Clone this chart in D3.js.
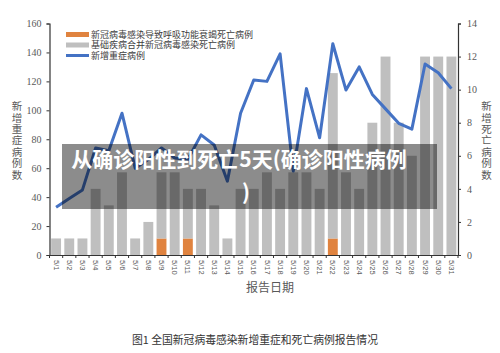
<!DOCTYPE html>
<html>
<head>
<meta charset="utf-8">
<script src="https://cdn.jsdelivr.net/npm/d3@7"></script>
<style>
body { margin: 0; background: #fff; }
svg { display: block; }
.cjk { font-family: "Noto Sans CJK SC", sans-serif; }
</style>
</head>
<body>
<div id="chart"></div>
<script>
var width = 500,
    height = 353;

// report dates (x categories)
var dates = ["5/1","5/2","5/3","5/4","5/5","5/6","5/7","5/8","5/9","5/10",
    "5/11","5/12","5/13","5/14","5/15","5/16","5/17","5/18","5/19","5/20",
    "5/21","5/22","5/23","5/24","5/25","5/26","5/27","5/28","5/29","5/30","5/31"];

// new severe cases (left axis)
var severe = [33,39,45,74,72,98,60,66,74,67,66,83,76,51,98,121,120,139,58,115,
    81,146,114,130,111,101,91,87,132,126,115];

// deaths from respiratory failure caused by infection (right axis)
var respDeaths = [0,0,0,0,0,0,0,0,1,0,1,0,0,0,0,0,0,0,0,0,0,1,0,0,0,0,0,0,0,0,0];

// deaths from underlying disease combined with infection (right axis)
var baseDeaths = [1,1,1,4,3,5,1,2,4,5,3,4,3,1,4,4,5,4,5,5,4,10,5,4,8,12,8,6,12,12,12];

var leftTicks = [0,20,40,60,80,100,120,140,160];
var rightTicks = [0,2,4,6,8,10,12,14];

var legendItems = [
    {name: "新冠病毒感染导致呼吸功能衰竭死亡病例", type: "bar", color: "#e0833f"},
    {name: "基础疾病合并新冠病毒感染死亡病例", type: "bar", color: "#bfbfbf"},
    {name: "新增重症病例", type: "line", color: "#4472c4"}
];

var plotLeft = 49.5, plotRight = 458, plotTop = 23.5, plotBottom = 255;

var svg = d3.select('#chart')
    .append('svg')
    .attr('width', width)
    .attr('height', height);

var x = d3.scaleBand()
    .domain(dates)
    .range([plotLeft, plotRight])
    .paddingInner(0.25)
    .paddingOuter(0.125);

var yL = d3.scaleLinear().domain([0, 160]).range([plotBottom, plotTop]);
var yR = d3.scaleLinear().domain([0, 14]).range([plotBottom, plotTop]);

// stacked bars
var g = svg.append('g');

g.selectAll('rect.resp')
    .data(dates)
    .enter()
    .append('rect')
    .attr('class', 'resp')
    .attr('x', d => x(d))
    .attr('width', x.bandwidth())
    .attr('y', (d, i) => yR(respDeaths[i]))
    .attr('height', (d, i) => yR(0) - yR(respDeaths[i]))
    .attr('fill', legendItems[0].color);

g.selectAll('rect.base')
    .data(dates)
    .enter()
    .append('rect')
    .attr('class', 'base')
    .attr('x', d => x(d))
    .attr('width', x.bandwidth())
    .attr('y', (d, i) => yR(respDeaths[i] + baseDeaths[i]))
    .attr('height', (d, i) => yR(respDeaths[i]) - yR(respDeaths[i] + baseDeaths[i]))
    .attr('fill', legendItems[1].color);

// severe line
var line = d3.line()
    .x((d, i) => x(dates[i]) + x.bandwidth() / 2)
    .y(d => yL(d));

g.append('path')
    .datum(severe)
    .attr('d', line)
    .attr('fill', 'none')
    .attr('stroke', legendItems[2].color)
    .attr('stroke-width', 3)
    .attr('stroke-linejoin', 'round');

// axes
var axisL = svg.append('g')
    .attr('transform', 'translate(' + plotLeft + ',0)')
    .call(d3.axisLeft(yL).tickValues(leftTicks).tickSize(3).tickPadding(5));

var axisR = svg.append('g')
    .attr('transform', 'translate(' + plotRight + ',0)')
    .call(d3.axisRight(yR).tickValues(rightTicks).tickSize(3).tickPadding(6));

[axisL, axisR].forEach(a => {
    a.select('.domain').attr('stroke', '#333').attr('stroke-width', 1.2);
    a.selectAll('.tick line').attr('stroke', '#333');
    a.selectAll('.tick text')
        .attr('fill', '#595959')
        .style('font-family', '"Liberation Serif", serif')
        .style('font-size', '10px');
});

var axisB = svg.append('g')
    .attr('transform', 'translate(0,' + plotBottom + ')')
    .call(d3.axisBottom(x).tickSize(0).tickPadding(0));

axisB.select('.domain').attr('stroke', '#333').attr('stroke-width', 1.2);
axisB.selectAll('.tick text')
    .attr('fill', '#595959')
    .attr('transform', 'translate(0,5) rotate(90)')
    .attr('text-anchor', 'start')
    .attr('dy', '0.32em')
    .attr('y', 0)
    .attr('x', 0)
    .style('font-family', '"Liberation Sans", sans-serif')
    .style('font-size', '7.5px');

// small ticks at band edges
svg.append('g')
    .selectAll('line')
    .data(dates.concat(['end']))
    .enter()
    .append('line')
    .attr('x1', (d, i) => plotLeft + i * x.step())
    .attr('x2', (d, i) => plotLeft + i * x.step())
    .attr('y1', plotBottom)
    .attr('y2', plotBottom + 3)
    .attr('stroke', '#333');

// legend
var legend = svg.append('g')
    .attr('transform', 'translate(66,34.5)');

var item = legend.selectAll('g')
    .data(legendItems)
    .enter()
    .append('g')
    .attr('transform', (d, i) => 'translate(0,' + i * 10.5 + ')');

item.filter(d => d.type == 'bar')
    .append('rect')
    .attr('x', 0)
    .attr('y', -2.5)
    .attr('width', 23)
    .attr('height', 5)
    .attr('fill', d => d.color);

item.filter(d => d.type == 'line')
    .append('line')
    .attr('x1', 0)
    .attr('x2', 23)
    .attr('stroke', d => d.color)
    .attr('stroke-width', 3);

item.append('text')
    .attr('class', 'cjk')
    .attr('x', 25)
    .attr('dy', '0.35em')
    .attr('fill', '#404040')
    .style('font-size', '9px')
    .text(d => d.name);

// vertical axis titles
function vertical(txt, cx) {
    svg.append('text')
        .attr('class', 'cjk')
        .attr('x', cx)
        .attr('y', 101)
        .attr('fill', '#595959')
        .style('font-size', '10.5px')
        .style('writing-mode', 'vertical-rl')
        .style('text-orientation', 'upright')
        .style('letter-spacing', '0.9px')
        .text(txt);
}
vertical('新增重症病例数', 17);
vertical('新增死亡病例数', 486.5);

svg.append('text')
    .attr('class', 'cjk')
    .attr('x', 270)
    .attr('y', 292)
    .attr('text-anchor', 'middle')
    .attr('fill', '#595959')
    .style('font-size', '12px')
    .text('报告日期');

svg.append('text')
    .attr('class', 'cjk')
    .attr('x', 255)
    .attr('y', 344)
    .attr('text-anchor', 'middle')
    .attr('fill', '#333')
    .style('font-size', '10.8px')
    .text('图1 全国新冠病毒感染新增重症和死亡病例报告情况');

// dark overlay banner
svg.append('rect')
    .attr('x', 62)
    .attr('y', 144)
    .attr('width', 375)
    .attr('height', 65)
    .attr('fill', 'rgba(0,0,0,0.45)');

svg.append('text')
    .attr('class', 'cjk')
    .attr('x', 239)
    .attr('y', 167)
    .attr('text-anchor', 'middle')
    .attr('fill', '#fff')
    .style('font-size', '21px')
    .style('font-weight', 'bold')
    .text('从确诊阳性到死亡5天(确诊阳性病例');

svg.append('text')
    .attr('class', 'cjk')
    .attr('x', 246)
    .attr('y', 200)
    .attr('text-anchor', 'middle')
    .attr('fill', '#fff')
    .style('font-size', '21px')
    .style('font-weight', 'bold')
    .text(')');
</script>
</body>
</html>
